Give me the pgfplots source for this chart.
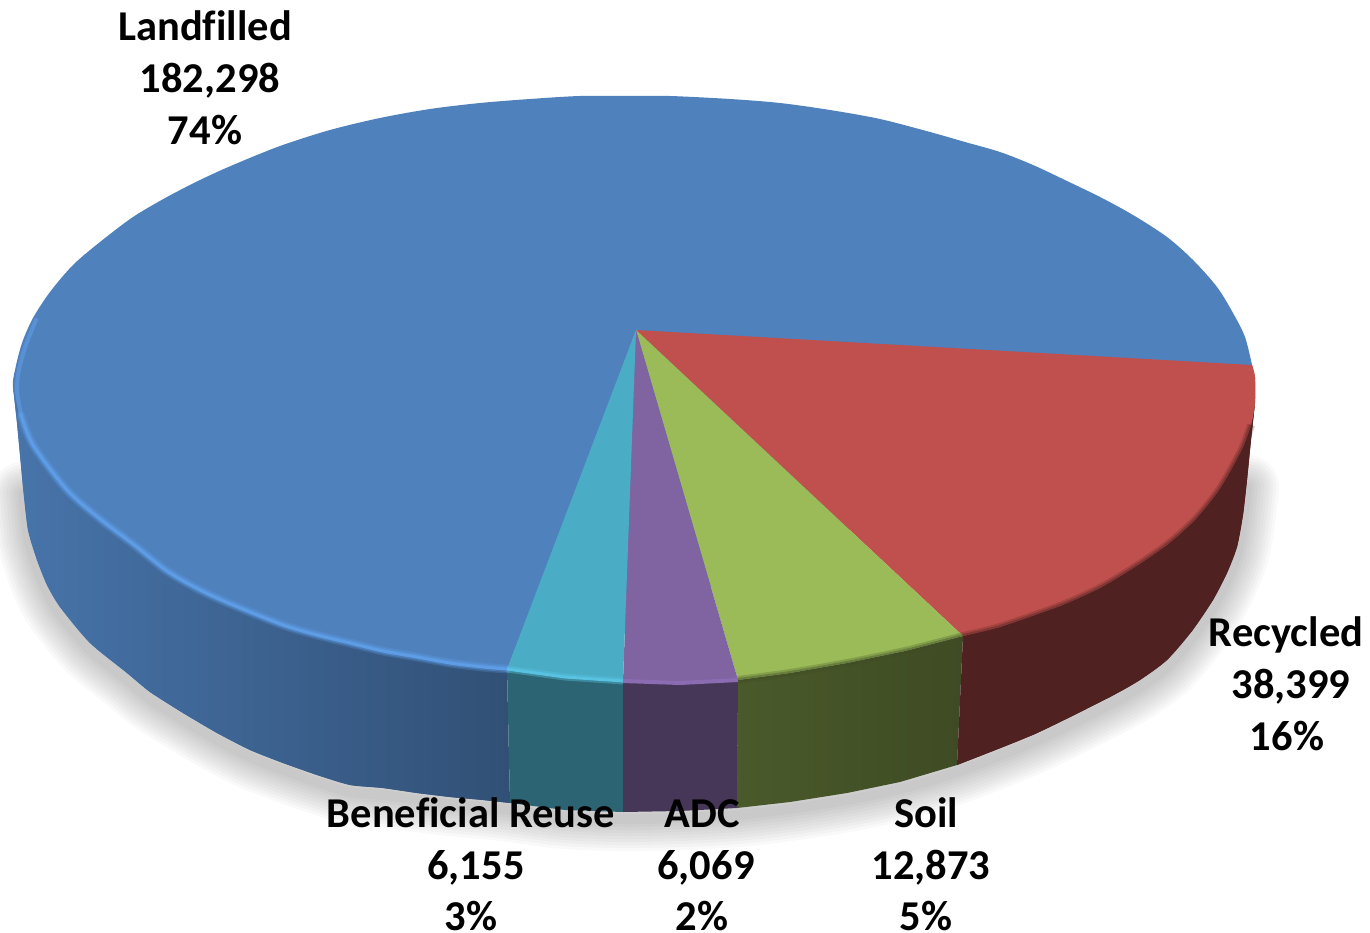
\documentclass[border=0pt]{standalone}
\usepackage{fontspec}
\setmainfont{Carlito}[Ligatures=NoCommon]
\usepackage{pgfplots}
\usepackage{pgfplotstable}
\pgfplotsset{compat=1.18}

\definecolor{cblue}{HTML}{4F81BD}
\definecolor{cred}{HTML}{C0504D}
\definecolor{cgreen}{HTML}{9BBB59}
\definecolor{cpurple}{HTML}{8064A2}
\definecolor{cteal}{HTML}{4BACC6}
\definecolor{rimb}{HTML}{5E9DE6}
\definecolor{rimt}{HTML}{58C2E0}
\definecolor{rimp}{HTML}{8B6BB2}

% arc of the top face, pixels
\pgfplotstableread{
x y
1252 365
1245 337
1233 313
1217 287
1193 260
1167 237
1133 215
1100 197
1067 181
1033 165
1000 152
965 142
930 132
880 119
830 110
780 103
730 99
670 96
630 96
580 96
530 99
480 103
430 109
380 118
330 130
280 146
233 165
200 180
167 197
133 217
100 242
73 265
50 292
33 318
22 343
15 370
13 387
20 415
33 445
67 490
100 519
133 544
167 571
200 590
233 605
283 625
317 635
350 643
383 651
417 657
450 663
483 667
507 669
}\topblue
\pgfplotstableread{
x y
636 330
1252 365
1255 377
1255 403
1251 425
1243 447
1231 470
1217 493
1195 520
1167 545
1135 567
1100 588
1060 606
1000 627
963 636
}\topred
\pgfplotstableread{
x y
1252 365
1255 377
1255 403
1251 425
1243 447
1231 470
1217 493
1195 520
1167 545
1135 567
1100 588
1060 606
1000 627
963 636
}\arcred
\pgfplotstableread{
x y
636 330
963 636
905 651
847 663
790 673
738 680
}\topgreen
\pgfplotstableread{
x y
636 330
738 680
680 683
623 681
}\toppurple
\pgfplotstableread{
x y
636 330
623 681
565 677
507 669
}\topteal

% side wall
\pgfplotstableread{
x y
13 387
20 415
33 445
67 490
100 519
133 544
167 571
200 590
233 605
283 625
317 635
350 643
383 651
417 657
450 663
483 667
507 669
510 803
483 800
450 797
417 793
383 788
350 785
317 775
283 763
250 750
217 733
183 713
150 692
127 673
90 643
60 607
47 585
37 560
28 530
23 487
17 423
}\sideblue
\pgfplotstableread{
x y
13 387
17 423
23 487
28 530
37 560
47 585
60 607
90 643
127 673
150 692
183 713
217 733
250 750
283 763
317 775
350 785
383 788
417 793
450 797
483 800
510 803
}\lowblue
\pgfplotstableread{
x y
507 669
565 677
623 681
623 812
565 810
510 803
}\sideteal
\pgfplotstableread{
x y
623 681
680 683
738 680
737 808
680 811
623 812
}\sidepurple
\pgfplotstableread{
x y
738 680
790 673
847 663
905 651
963 636
957 765
900 782
847 793
790 802
737 808
}\sidegreen
\pgfplotstableread{
x y
963 636
1000 627
1060 606
1100 588
1135 567
1167 545
1195 520
1217 493
1231 470
1243 447
1251 425
1255 403
1251 440
1247 480
1243 515
1237 547
1227 573
1213 600
1192 631
1167 660
1140 680
1110 697
1035 734
957 765
}\sidered
\pgfplotstableread{
x y
1255 403
1251 440
1247 480
1243 515
1237 547
1227 573
1213 600
1192 631
1167 660
1140 680
1110 697
1035 734
957 765
}\lowred

% lower edge, for the shadow
\pgfplotstableread{
x y
23 487
28 530
37 560
47 585
60 607
90 643
127 673
150 692
183 713
217 733
250 750
283 763
317 775
350 785
383 788
417 793
450 797
483 800
510 803
565 810
623 812
680 811
737 808
790 802
847 793
900 782
957 765
1035 734
1110 697
1140 680
1167 660
1192 631
1213 600
1227 573
1237 547
1243 515
1247 480
}\loweredge

% rims
\pgfplotstableread{
x y
36 320
26 345
19 370
17 390
21 415
}\rimleft
\pgfplotstableread{
x y
21 415
33 445
67 490
100 519
133 544
167 571
200 590
233 605
283 625
317 635
350 643
383 651
417 657
450 663
483 667
507 669
}\rimblue
\pgfplotstableread{
x y
507 669
565 677
623 681
}\rimteal
\pgfplotstableread{
x y
623 681
680 683
738 680
}\rimpurple
\pgfplotstableread{
x y
738 680
790 673
847 663
905 651
963 636
}\rimgreen
\pgfplotstableread{
x y
963 636
1000 627
1060 606
1100 588
1135 567
1167 545
1195 520
1217 493
1231 470
1243 447
1251 425
}\rimred

\newcommand{\lbl}{\fontsize{42.5}{52}\selectfont\bfseries}

\begin{document}
\begin{tikzpicture}
\path[use as bounding box] (0,0) rectangle (1370pt,933pt);
\begin{axis}[
	anchor=south west, at={(0,0)},
	scale only axis, width=1370pt, height=933pt,
	xmin=0, xmax=1370, ymin=0, ymax=933,
	y dir=reverse,
	hide axis,
	clip=true,
	every axis plot/.append style={line join=round, line cap=round},
	]
	\pgfplotsinvokeforeach{64,58,52,46,40,34,28,22,16,10}{
		\addplot[black, opacity=0.022, line width=#1pt, fill=none, smooth]
			table[x=x, y expr=\thisrow{y}+7] {\loweredge};
	}

	\addplot[draw=none, left color=cblue!90!black, right color=cblue!62!black] table {\sideblue};
	\addplot[draw=none, smooth, left color=cblue!90!black, right color=cblue!62!black] table {\lowblue};
	\addplot[draw=none, fill=cteal!58!black] table {\sideteal};
	\addplot[draw=none, fill=cpurple!55!black] table {\sidepurple};
	\addplot[draw=none, left color=cgreen!48!black, right color=cgreen!40!black] table {\sidegreen};
	\addplot[draw=none, fill=cred!41!black] table {\sidered};
	\addplot[draw=none, smooth, fill=cred!41!black] table {\lowred};

	\addplot[draw=none, smooth, fill=cblue] table {\topblue};
	\addplot[draw=none, fill=cred] table {\topred};
	\addplot[draw=none, smooth, fill=cred] table {\arcred};
	\addplot[draw=none, fill=cgreen] table {\topgreen};
	\addplot[draw=none, fill=cpurple] table {\toppurple};
	\addplot[draw=none, fill=cteal] table {\topteal};

	\addplot[color=rimb, opacity=0.6, line width=4pt, smooth] table {\rimleft};
	\addplot[color=rimb, opacity=0.25, line width=9pt, smooth] table {\rimblue};
	\addplot[color=rimb, opacity=0.4, line width=6pt, smooth] table {\rimblue};
	\addplot[color=rimb, line width=3pt, smooth] table {\rimblue};
	\addplot[color=rimt, opacity=0.4, line width=7pt, line cap=butt] table {\rimteal};
	\addplot[color=rimt, line width=3pt, line cap=butt] table {\rimteal};
	\addplot[color=rimp, line width=4pt, line cap=butt] table {\rimpurple};
	\addplot[color=cgreen!41!black, opacity=0.25, line width=8pt, line cap=butt, smooth] table {\rimgreen};
	\addplot[color=cgreen!41!black, opacity=0.4, line width=4pt, line cap=butt, smooth] table {\rimgreen};
	\addplot[color=cred!41!black, opacity=0.25, line width=8pt, line cap=butt, smooth] table {\rimred};
	\addplot[color=cred!41!black, opacity=0.4, line width=4pt, line cap=butt, smooth] table {\rimred};

	\node[anchor=base, font=\lbl] at (axis cs:205,41) {Landfilled};
	\node[anchor=base, font=\lbl] at (axis cs:210,93) {182,298};
	\node[anchor=base, font=\lbl] at (axis cs:205,145) {74\%};
	\node[anchor=base, font=\lbl] at (axis cs:1286,646) {Recycled};
	\node[anchor=base, font=\lbl] at (axis cs:1291,698) {38,399};
	\node[anchor=base, font=\lbl] at (axis cs:1287,750) {16\%};
	\node[anchor=base, font=\lbl] at (axis cs:471,827) {Beneficial Reuse};
	\node[anchor=base, font=\lbl] at (axis cs:476,879) {6,155};
	\node[anchor=base, font=\lbl] at (axis cs:471,930) {3\%};
	\node[anchor=base, font=\lbl] at (axis cs:702,827) {ADC};
	\node[anchor=base, font=\lbl] at (axis cs:706,879) {6,069};
	\node[anchor=base, font=\lbl] at (axis cs:702,930) {2\%};
	\node[anchor=base, font=\lbl] at (axis cs:926,827) {Soil};
	\node[anchor=base, font=\lbl] at (axis cs:931,879) {12,873};
	\node[anchor=base, font=\lbl] at (axis cs:926,930) {5\%};
\end{axis}
\end{tikzpicture}
\end{document}
